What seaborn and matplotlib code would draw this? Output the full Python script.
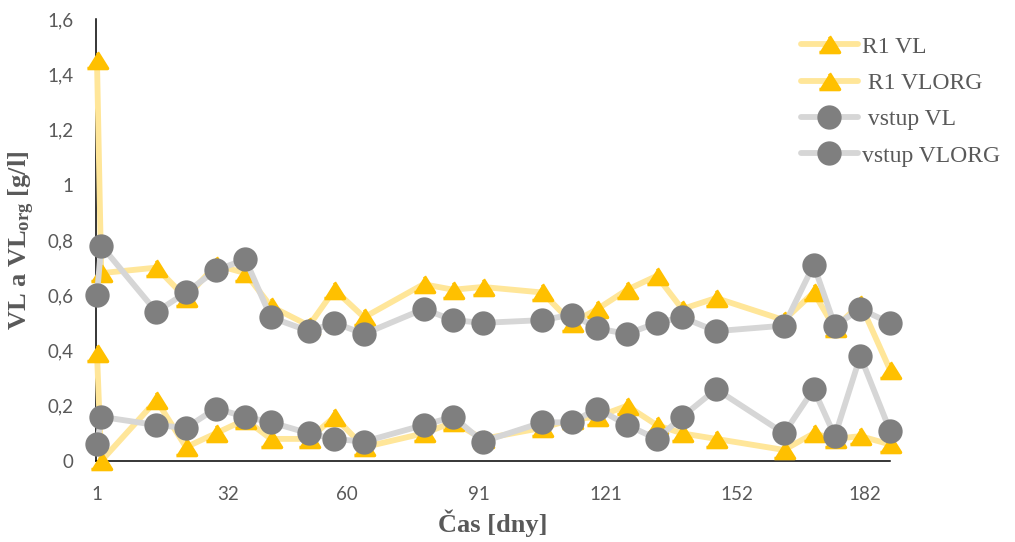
import matplotlib
matplotlib.use("Agg")
import matplotlib.pyplot as plt
from matplotlib.markers import MarkerStyle
import pandas as pd
import seaborn as sns

# days of measurement
days = [1, 2, 15, 22, 29, 36, 42, 51, 57, 64, 78, 85, 92, 106, 113, 119,
        126, 133, 139, 147, 163, 170, 175, 181, 188]

r1_vl = [1.45, 0.68, 0.70, 0.59, 0.71, 0.68, 0.56, 0.49, 0.62, 0.52, 0.64, 0.62,
         0.63, 0.61, 0.50, 0.55, 0.62, 0.67, 0.55, 0.59, 0.51, 0.61, 0.48, 0.57, 0.33]
r1_vlorg = [0.39, 0.00, 0.22, 0.05, 0.10, 0.15, 0.08, 0.08, 0.16, 0.05, 0.10, 0.14,
            0.08, 0.12, 0.15, 0.16, 0.20, 0.13, 0.10, 0.08, 0.04, 0.10, 0.08, 0.09, 0.06]
vstup_vl = [0.60, 0.78, 0.54, 0.61, 0.69, 0.73, 0.52, 0.47, 0.50, 0.46, 0.55, 0.51,
            0.50, 0.51, 0.53, 0.48, 0.46, 0.50, 0.52, 0.47, 0.49, 0.71, 0.49, 0.55, 0.50]
vstup_vlorg = [0.06, 0.16, 0.13, 0.12, 0.19, 0.16, 0.14, 0.10, 0.08, 0.07, 0.13, 0.16,
               0.07, 0.14, 0.14, 0.19, 0.13, 0.08, 0.16, 0.26, 0.10, 0.26, 0.09, 0.38, 0.11]

labels = ["R1 VL", " R1 VLORG", " vstup VL", "vstup VLORG"]
xticks = [1, 32, 60, 91, 121, 152, 182]
yticks = [0, 0.2, 0.4, 0.6, 0.8, 1, 1.2, 1.4, 1.6]
ytick_labels = ["0", "0,2", "0,4", "0,6", "0,8", "1", "1,2", "1,4", "1,6"]

df = pd.DataFrame({"day": days, "r1_vl": r1_vl, "r1_vlorg": r1_vlorg,
                   "vstup_vl": vstup_vl, "vstup_vlorg": vstup_vlorg})

sns.set_style("white")
plt.rcParams["mathtext.fontset"] = "custom"
plt.rcParams["mathtext.bf"] = "Liberation Serif:bold"
plt.rcParams["mathtext.rm"] = "Liberation Serif"
plt.rcParams["mathtext.default"] = "bf"

fig = plt.figure(figsize=(10.15, 5.42), dpi=100)
ax = fig.add_axes([96 / 1015, 81 / 542, 794 / 1015, 442 / 542])

tri = MarkerStyle([(-1, -0.8), (1, -0.8), (0, 0.8)], joinstyle="round")
circ = MarkerStyle("o")

yellow, yellow_line = "#FFC000", "#FFE699"
grey, grey_line = "#7F7F7F", "#D6D6D6"

series = [("r1_vl", tri, yellow, yellow_line, 14.5),
          ("r1_vlorg", tri, yellow, yellow_line, 14.5),
          ("vstup_vl", circ, grey, grey_line, 15),
          ("vstup_vlorg", circ, grey, grey_line, 15)]

for (col, mk, mcol, lcol, ms), lab in zip(series, labels):
    sns.lineplot(data=df, x="day", y=col, ax=ax, estimator=None, sort=False,
                 color=lcol, linewidth=4.2, marker=mk, markersize=ms,
                 markerfacecolor=mcol, markeredgecolor=mcol, markeredgewidth=2.5,
                 label=lab, clip_on=False, solid_joinstyle="round")

ax.set_xlim(0.77, 188)
ax.set_ylim(0, 1.6)
ax.set_xticks(xticks)
ax.set_xticklabels([str(t) for t in xticks])
ax.set_yticks(yticks)
ax.set_yticklabels(ytick_labels)

for s in ["top", "right"]:
    ax.spines[s].set_visible(False)
for s in ["left", "bottom"]:
    ax.spines[s].set_color("black")
    ax.spines[s].set_linewidth(1.1)
    ax.spines[s].set_zorder(0)

ax.tick_params(axis="both", which="major", direction="out", length=5, width=1.1,
               color="black", labelcolor="#595959", labelsize=13.5)
ax.tick_params(axis="x", pad=13)
ax.tick_params(axis="y", pad=11)
for t in ax.get_xticklabels() + ax.get_yticklabels():
    t.set_family("Lato")

ax.set_xlabel("Čas [dny]", family="Liberation Serif", fontweight="bold",
              fontsize=19, color="#595959", labelpad=5)
ax.set_ylabel(r"VL a VL$_{org}$ [g/l]", family="Liberation Serif", fontweight="bold",
              fontsize=19, color="#595959", labelpad=8)

leg = ax.legend(loc="upper left", bbox_to_anchor=(801 / 1015, 1 - 36 / 542),
                bbox_transform=fig.transFigure, frameon=False, borderpad=0,
                borderaxespad=0, handlelength=2.4, handletextpad=0.2,
                labelspacing=0.63, prop={"family": "Liberation Serif", "size": 17})
for t in leg.get_texts():
    t.set_color("#595959")

plt.savefig("out.png", dpi=100)
